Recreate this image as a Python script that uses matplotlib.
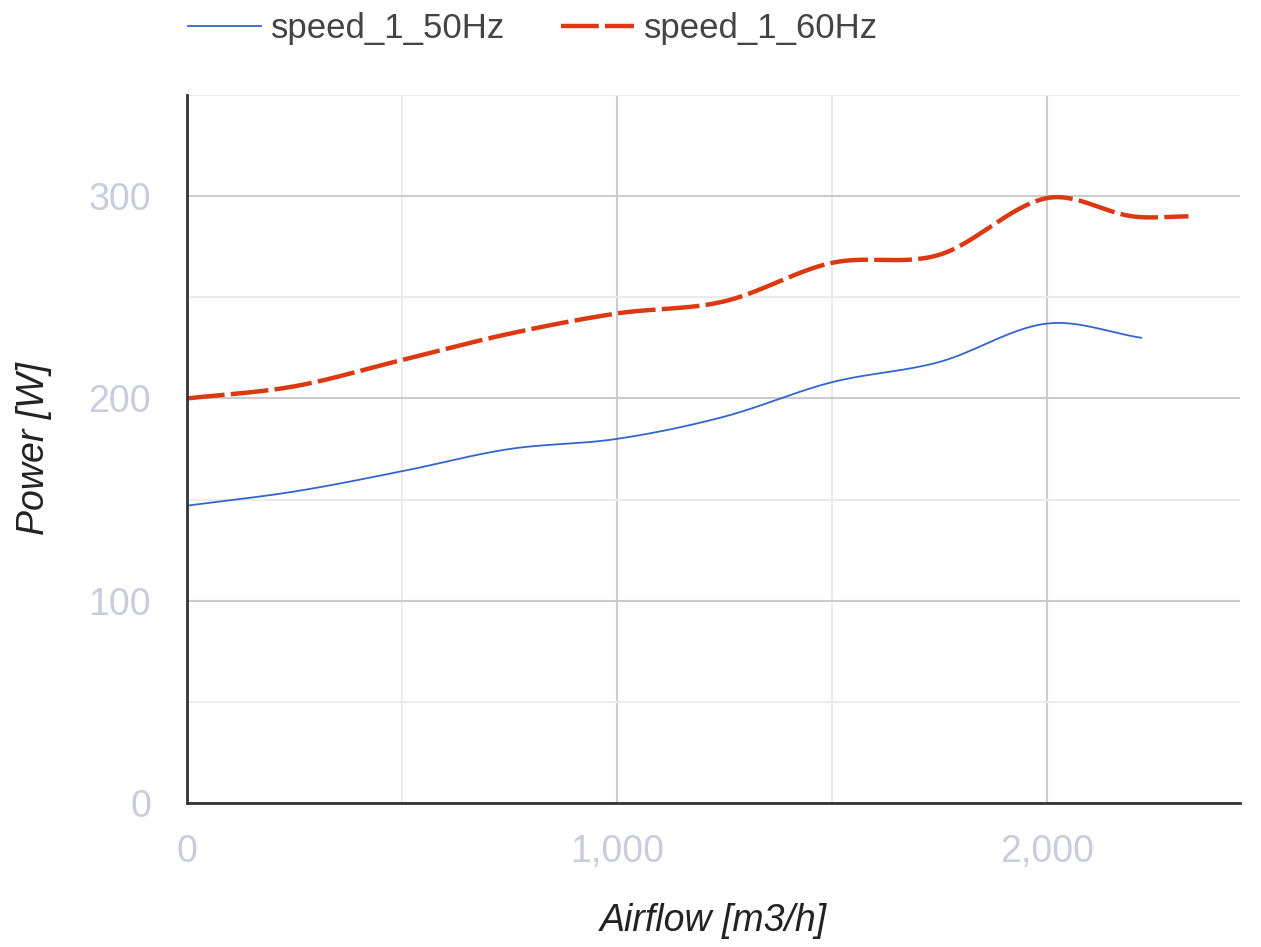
import numpy as np
import matplotlib
matplotlib.use("Agg")
import matplotlib.pyplot as plt
from matplotlib.ticker import MultipleLocator, FuncFormatter

# data
airflow_50 = [0, 250, 500, 750, 1000, 1250, 1500, 1750, 2000, 2220]
power_50 = [147, 154, 164, 175, 180, 191, 208, 218, 237, 230]

airflow_60 = [0, 250, 500, 750, 1000, 1250, 1500, 1750, 2000, 2200, 2330]
power_60 = [200, 206, 219, 232, 242, 248, 267, 271, 299, 290, 290]

labels = ["speed_1_50Hz", "speed_1_60Hz"]


def smooth(x, y, n=30):
    """cubic Hermite through the points (curved line like the source chart)"""
    x, y = np.asarray(x, float), np.asarray(y, float)
    m = np.empty_like(y)
    m[1:-1] = (y[2:] - y[:-2]) / (x[2:] - x[:-2])
    m[0] = (y[1] - y[0]) / (x[1] - x[0])
    m[-1] = (y[-1] - y[-2]) / (x[-1] - x[-2])
    xs, ys = [], []
    for i in range(len(x) - 1):
        h = x[i + 1] - x[i]
        t = np.linspace(0, 1, n, endpoint=False)
        h00 = 2 * t**3 - 3 * t**2 + 1
        h10 = t**3 - 2 * t**2 + t
        h01 = -2 * t**3 + 3 * t**2
        h11 = t**3 - t**2
        xs.append(x[i] + t * h)
        ys.append(h00 * y[i] + h10 * h * m[i] + h01 * y[i + 1] + h11 * h * m[i + 1])
    xs.append([x[-1]])
    ys.append([y[-1]])
    return np.concatenate(xs), np.concatenate(ys)


plt.rcParams["font.family"] = ["Liberation Sans", "DejaVu Sans"]

fig = plt.figure(figsize=(12.61, 9.47), dpi=100)
ax = fig.add_axes([0.1483, 0.152, 0.8351, 0.7477])

x1, y1 = smooth(airflow_50, power_50)
x2, y2 = smooth(airflow_60, power_60)
ax.plot(x1, y1, color="#3366cc", lw=1.3, label=labels[0], zorder=3)
ax.plot(x2, y2, color="#dc3912", lw=3.2, dashes=(8.5, 1.4), label=labels[1], zorder=3)

ax.set_xlim(0, 2450)
ax.set_ylim(0, 350)

ax.xaxis.set_major_locator(MultipleLocator(1000))
ax.xaxis.set_minor_locator(MultipleLocator(500))
ax.yaxis.set_major_locator(MultipleLocator(100))
ax.yaxis.set_minor_locator(MultipleLocator(50))
ax.xaxis.set_major_formatter(FuncFormatter(lambda v, p: f"{int(v):,}"))

ax.grid(which="major", color="#cccccc", lw=1.5, zorder=0)
ax.grid(which="minor", color="#ebebeb", lw=1.5, zorder=0)
ax.set_axisbelow(True)
ax.axhline(350, color="#ebebeb", lw=1.5, zorder=0)

ax.tick_params(which="both", length=0, labelsize=27, labelcolor="#c8ccdc")
ax.tick_params(axis="y", pad=26)
ax.tick_params(axis="x", pad=22)

for s in ("top", "right"):
    ax.spines[s].set_visible(False)
for s in ("left", "bottom"):
    ax.spines[s].set_color("#333333")
    ax.spines[s].set_linewidth(2.0)
    ax.spines[s].set_zorder(4)

ax.set_xlabel("Airflow [m3/h]", fontsize=27, style="italic", color="#222222", labelpad=24)
ax.set_ylabel("Power [W]", fontsize=27, style="italic", color="#222222", labelpad=26)

fig.legend(loc="upper left", bbox_to_anchor=(0.124, 1.02), ncol=2, frameon=False,
           fontsize=25, handlelength=2.1, handletextpad=0.3, columnspacing=1.6,
           labelcolor="#444444")

fig.savefig("out.png", dpi=100)
